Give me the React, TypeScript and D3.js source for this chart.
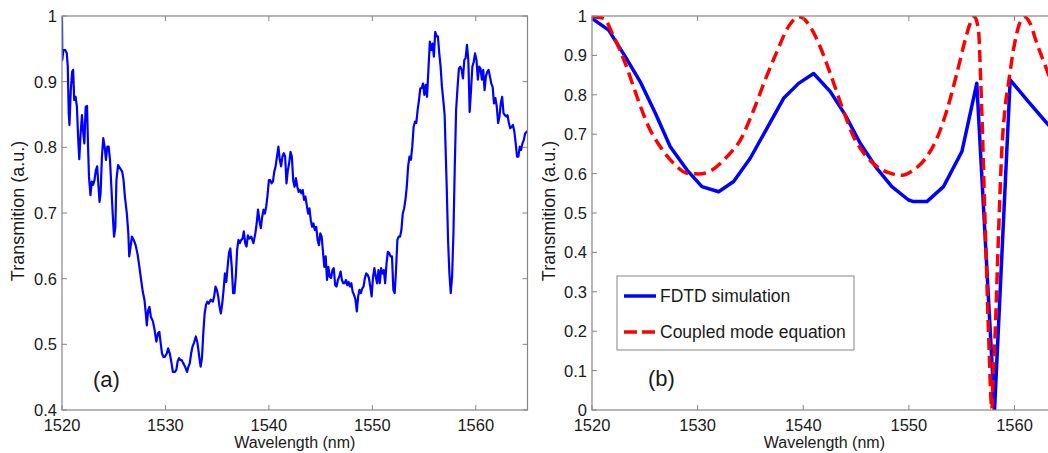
import React from "react";
import * as d3 from "d3";

// ---------- data ----------
// Panel (a): measured transmission spectrum [wavelength nm, transmission]
const measured: [number, number][] = [
  [1520.0,0.999],[1520.03,0.933],[1520.13,0.948],[1520.33,0.948],[1520.46,0.943],[1520.56,0.923],[1520.65,0.852],[1520.72,0.834],[1520.85,0.887],[1520.98,0.915],
  [1521.08,0.918],[1521.18,0.872],[1521.31,0.877],[1521.44,0.862],[1521.57,0.811],[1521.67,0.782],[1521.8,0.821],[1521.93,0.849],[1522.06,0.821],[1522.16,0.806],
  [1522.29,0.862],[1522.42,0.863],[1522.52,0.801],[1522.61,0.755],[1522.75,0.727],[1522.88,0.748],[1523.01,0.743],[1523.14,0.75],[1523.27,0.765],[1523.4,0.771],
  [1523.53,0.74],[1523.63,0.717],[1523.73,0.73],[1523.86,0.786],[1523.99,0.814],[1524.12,0.801],[1524.25,0.781],[1524.38,0.801],[1524.51,0.801],[1524.64,0.781],
  [1524.77,0.74],[1524.9,0.699],[1525.03,0.664],[1525.16,0.679],[1525.26,0.75],[1525.42,0.773],[1525.62,0.768],[1525.82,0.763],[1525.95,0.75],[1526.08,0.725],
  [1526.27,0.699],[1526.41,0.669],[1526.5,0.634],[1526.63,0.649],[1526.76,0.664],[1526.93,0.659],[1527.12,0.651],[1527.32,0.636],[1527.48,0.618],[1527.65,0.598],
  [1527.81,0.58],[1527.97,0.568],[1528.1,0.547],[1528.2,0.529],[1528.33,0.552],[1528.46,0.557],[1528.59,0.542],[1528.79,0.535],[1528.95,0.522],[1529.12,0.504],
  [1529.28,0.517],[1529.41,0.519],[1529.54,0.502],[1529.67,0.486],[1529.8,0.481],[1529.93,0.481],[1530.13,0.486],[1530.26,0.494],[1530.42,0.486],[1530.59,0.471],
  [1530.72,0.458],[1530.92,0.458],[1531.05,0.461],[1531.18,0.474],[1531.31,0.479],[1531.44,0.476],[1531.57,0.476],[1531.73,0.471],[1531.9,0.466],[1532.09,0.458],
  [1532.22,0.466],[1532.35,0.471],[1532.48,0.486],[1532.61,0.496],[1532.75,0.502],[1532.94,0.512],[1533.1,0.502],[1533.27,0.481],[1533.4,0.466],[1533.53,0.479],
  [1533.66,0.517],[1533.79,0.547],[1533.92,0.56],[1534.05,0.565],[1534.18,0.562],[1534.38,0.568],[1534.58,0.565],[1534.71,0.573],[1534.84,0.588],[1534.97,0.583],
  [1535.1,0.573],[1535.23,0.557],[1535.36,0.547],[1535.49,0.562],[1535.62,0.583],[1535.75,0.608],[1535.88,0.595],[1536.01,0.618],[1536.14,0.639],[1536.27,0.646],
  [1536.41,0.618],[1536.54,0.578],[1536.67,0.578],[1536.8,0.603],[1536.93,0.644],[1537.06,0.659],[1537.19,0.654],[1537.32,0.659],[1537.45,0.661],[1537.58,0.672],
  [1537.71,0.654],[1537.84,0.649],[1537.97,0.666],[1538.1,0.661],[1538.3,0.664],[1538.5,0.654],[1538.69,0.669],[1538.82,0.684],[1538.95,0.705],[1539.08,0.689],
  [1539.22,0.677],[1539.35,0.694],[1539.48,0.705],[1539.61,0.699],[1539.74,0.71],[1539.87,0.727],[1540.0,0.75],[1540.13,0.75],[1540.26,0.745],[1540.39,0.748],
  [1540.52,0.763],[1540.65,0.771],[1540.78,0.786],[1540.92,0.801],[1541.05,0.781],[1541.18,0.771],[1541.31,0.786],[1541.44,0.791],[1541.57,0.786],[1541.7,0.745],
  [1541.83,0.765],[1541.96,0.776],[1542.09,0.793],[1542.22,0.786],[1542.35,0.75],[1542.48,0.74],[1542.61,0.753],[1542.75,0.74],[1542.88,0.732],[1543.01,0.735],
  [1543.14,0.73],[1543.27,0.735],[1543.4,0.72],[1543.53,0.725],[1543.66,0.712],[1543.79,0.699],[1543.92,0.707],[1544.05,0.689],[1544.18,0.679],[1544.31,0.684],
  [1544.44,0.674],[1544.58,0.679],[1544.71,0.659],[1544.84,0.651],[1544.97,0.669],[1545.1,0.664],[1545.23,0.641],[1545.36,0.618],[1545.49,0.634],[1545.62,0.598],
  [1545.75,0.618],[1545.88,0.603],[1546.01,0.601],[1546.14,0.613],[1546.27,0.616],[1546.41,0.59],[1546.54,0.588],[1546.67,0.598],[1546.8,0.603],[1546.93,0.611],
  [1547.06,0.598],[1547.19,0.593],[1547.32,0.593],[1547.45,0.598],[1547.58,0.59],[1547.71,0.595],[1547.84,0.588],[1547.97,0.593],[1548.1,0.58],[1548.24,0.575],
  [1548.37,0.568],[1548.5,0.55],[1548.63,0.573],[1548.76,0.583],[1548.89,0.578],[1549.02,0.585],[1549.15,0.588],[1549.28,0.601],[1549.41,0.608],[1549.54,0.606],
  [1549.67,0.601],[1549.8,0.588],[1549.93,0.573],[1550.07,0.603],[1550.2,0.616],[1550.33,0.603],[1550.46,0.593],[1550.59,0.613],[1550.72,0.593],[1550.85,0.616],
  [1550.98,0.608],[1551.11,0.613],[1551.24,0.593],[1551.37,0.623],[1551.5,0.641],[1551.63,0.639],[1551.76,0.634],[1551.9,0.634],[1552.03,0.583],[1552.16,0.578],
  [1552.29,0.613],[1552.42,0.659],[1552.55,0.664],[1552.68,0.664],[1552.81,0.674],[1552.94,0.699],[1553.07,0.707],[1553.2,0.72],[1553.33,0.74],[1553.46,0.771],
  [1553.59,0.786],[1553.73,0.781],[1553.86,0.801],[1553.99,0.831],[1554.12,0.839],[1554.25,0.837],[1554.38,0.857],[1554.51,0.872],[1554.64,0.89],[1554.77,0.89],
  [1554.9,0.897],[1555.03,0.88],[1555.16,0.895],[1555.29,0.877],[1555.42,0.918],[1555.56,0.961],[1555.69,0.948],[1555.82,0.958],[1555.95,0.938],[1556.08,0.976],
  [1556.21,0.969],[1556.34,0.969],[1556.47,0.943],[1556.6,0.923],[1556.73,0.892],[1556.86,0.872],[1556.99,0.849],[1557.06,0.811],[1557.19,0.74],[1557.32,0.659],
  [1557.45,0.608],[1557.58,0.578],[1557.71,0.603],[1557.84,0.669],[1557.97,0.771],[1558.1,0.857],[1558.24,0.892],[1558.37,0.92],[1558.5,0.923],[1558.63,0.918],
  [1558.76,0.905],[1558.89,0.933],[1559.02,0.936],[1559.15,0.956],[1559.28,0.933],[1559.41,0.854],[1559.54,0.887],[1559.67,0.923],[1559.8,0.93],[1559.93,0.943],
  [1560.07,0.933],[1560.2,0.903],[1560.33,0.923],[1560.46,0.92],[1560.59,0.903],[1560.72,0.918],[1560.85,0.887],[1560.98,0.908],[1561.11,0.915],[1561.24,0.918],
  [1561.37,0.908],[1561.5,0.897],[1561.63,0.892],[1561.76,0.867],[1561.9,0.875],[1562.03,0.862],[1562.16,0.837],[1562.29,0.847],[1562.42,0.867],[1562.55,0.877],
  [1562.68,0.852],[1562.81,0.849],[1562.94,0.847],[1563.07,0.849],[1563.2,0.837],[1563.33,0.829],[1563.46,0.831],[1563.59,0.834],[1563.73,0.824],[1563.86,0.806],
  [1563.99,0.786],[1564.12,0.786],[1564.25,0.801],[1564.38,0.796],[1564.51,0.806],[1564.64,0.811],[1564.77,0.821],[1565.0,0.825]
];

// Panel (b): FDTD simulation
const fdtd: [number, number][] = [
  [1520.0,0.994],[1521.58,0.964],[1523.15,0.897],[1524.57,0.833],[1526.0,0.753],[1527.41,0.668],[1529.0,0.609],[1530.41,0.567],
  [1531.99,0.554],[1533.41,0.58],[1534.98,0.639],[1536.56,0.715],[1538.14,0.791],[1539.56,0.829],[1540.98,0.854],[1542.56,0.808],
  [1543.97,0.749],[1545.39,0.677],[1546.97,0.613],[1548.39,0.567],[1549.97,0.533],[1550.44,0.529],[1551.7,0.529],[1553.28,0.567],
  [1555.02,0.656],[1556.43,0.829],[1558.11,0.0],[1559.59,0.838],[1561.17,0.787],[1563.06,0.728],[1564.5,0.685]
];

// Panel (b): coupled mode equation
const cme: [number, number][] = [
  [1520.0,0.998],[1521.1,0.994],[1522.05,0.948],[1523.15,0.88],[1524.26,0.795],[1525.36,0.719],[1526.47,0.668],[1527.73,0.626],
  [1529.0,0.601],[1530.1,0.599],[1531.36,0.609],[1532.78,0.643],[1534.04,0.685],[1535.3,0.761],[1536.4,0.838],[1537.5,0.909],
  [1538.6,0.973],[1539.65,0.998],[1540.66,0.973],[1541.6,0.922],[1542.56,0.854],[1543.66,0.77],[1544.76,0.694],[1545.87,0.647],
  [1546.97,0.618],[1548.23,0.601],[1549.34,0.596],[1550.44,0.609],[1551.7,0.643],[1552.65,0.689],[1553.6,0.761],[1554.54,0.854],
  [1555.33,0.939],[1555.8,0.981],[1556.21,0.998],[1556.59,0.964],[1556.81,0.829],[1557.0,0.677],[1557.15,0.533],[1557.31,0.398],
  [1557.44,0.279],[1557.6,0.152],[1557.73,0.051],[1557.85,0.0],[1557.95,0.068],[1558.17,0.195],[1558.49,0.448],[1558.8,0.66],
  [1559.12,0.77],[1559.43,0.829],[1559.9,0.914],[1560.38,0.973],[1560.95,0.998],[1561.48,0.981],[1562.11,0.931],[1563.06,0.863],[1564.0,0.79]
];

const xTicks = [1520, 1530, 1540, 1550, 1560];
const yTicksA = [0.4, 0.5, 0.6, 0.7, 0.8, 0.9, 1];
const yTicksB = [0, 0.1, 0.2, 0.3, 0.4, 0.5, 0.6, 0.7, 0.8, 0.9, 1];
const legendLabels = ["FDTD simulation", "Coupled mode equation"];
const xLabel = "Wavelength (nm)";
const yLabel = "Transmition (a.u.)";

// ---------- styling ----------
const FONT = "'Liberation Sans', Arial, Helvetica, sans-serif";
const AXIS = "#858585";
const TEXT = "#1a1a1a";
const TICK = 5;

const fmtY = (v: number) => (v === 0 ? "0" : v === 1 ? "1" : v.toFixed(1));

type PanelProps = {
  id: string;
  left: number;
  right: number;
  top: number;
  bottom: number;
  xDomain: [number, number];
  yDomain: [number, number];
  yTicks: number[];
  tag: string;
  tagPos: [number, number];
  yLabelX: number;
  children: (x: d3.ScaleLinear<number, number>, y: d3.ScaleLinear<number, number>) => React.ReactNode;
};

function Panel(p: PanelProps) {
  const x = d3.scaleLinear().domain(p.xDomain).range([p.left, p.right]);
  const y = d3.scaleLinear().domain(p.yDomain).range([p.bottom, p.top]);
  const w = p.right - p.left;
  const h = p.bottom - p.top;
  return (
    <g>
      <defs>
        <clipPath id={p.id}>
          <rect x={p.left} y={p.top} width={w} height={h} />
        </clipPath>
      </defs>
      <rect x={p.left} y={p.top} width={w} height={h} fill="#fff" stroke="none" />
      <g clipPath={`url(#${p.id})`}>{p.children(x, y)}</g>
      <rect x={p.left} y={p.top} width={w} height={h} fill="none" stroke={AXIS} strokeWidth={1.2} />
      {xTicks.map((t) => (
        <g key={"x" + t}>
          <line x1={x(t)} x2={x(t)} y1={p.bottom} y2={p.bottom - TICK} stroke={AXIS} />
          <line x1={x(t)} x2={x(t)} y1={p.top} y2={p.top + TICK} stroke={AXIS} />
          <text x={x(t)} y={p.bottom + 21} textAnchor="middle" fontSize={16.5} fill={TEXT} fontFamily={FONT}>
            {t}
          </text>
        </g>
      ))}
      {p.yTicks.map((t) => (
        <g key={"y" + t}>
          <line x1={p.left} x2={p.left + TICK} y1={y(t)} y2={y(t)} stroke={AXIS} />
          <line x1={p.right} x2={p.right - TICK} y1={y(t)} y2={y(t)} stroke={AXIS} />
          <text x={p.left - 5} y={y(t)} dy="0.36em" textAnchor="end" fontSize={16.5} fill={TEXT} fontFamily={FONT}>
            {fmtY(t)}
          </text>
        </g>
      ))}
      <text x={(p.left + p.right) / 2} y={448} textAnchor="middle" fontSize={16} fill={TEXT} fontFamily={FONT}>
        {xLabel}
      </text>
      <text
        transform={`translate(${p.yLabelX},${(p.top + p.bottom) / 2 - 2}) rotate(-90)`}
        textAnchor="middle"
        fontSize={18}
        fill={TEXT}
        fontFamily={FONT}
      >
        {yLabel}
      </text>
      <text x={p.tagPos[0]} y={p.tagPos[1]} fontSize={22} fill={TEXT} fontFamily={FONT}>
        {p.tag}
      </text>
    </g>
  );
}

export default function App() {
  const line = (x: d3.ScaleLinear<number, number>, y: d3.ScaleLinear<number, number>, curve: d3.CurveFactory) =>
    d3
      .line<[number, number]>()
      .x((d) => x(d[0]))
      .y((d) => y(d[1]))
      .curve(curve);

  return (
    <svg width={1048} height={453} style={{ position: "absolute", left: 0, top: 0, background: "#fff" }}>
      <rect x={0} y={0} width={1048} height={453} fill="#fff" />
      <Panel
        id="clipA"
        left={62}
        right={527.5}
        top={16}
        bottom={410}
        xDomain={[1520, 1565]}
        yDomain={[0.4, 1]}
        yTicks={yTicksA}
        tag="(a)"
        tagPos={[93, 387]}
        yLabelX={24}
      >
        {(x, y) => (
          <path d={line(x, y, d3.curveLinear)(measured) || ""} fill="none" stroke="#0000ff" strokeWidth={2.2} strokeLinejoin="round" />
        )}
      </Panel>
      <Panel
        id="clipB"
        left={592}
        right={1056.75}
        top={16}
        bottom={410}
        xDomain={[1520, 1564]}
        yDomain={[0, 1]}
        yTicks={yTicksB}
        tag="(b)"
        tagPos={[648, 386]}
        yLabelX={555}
      >
        {(x, y) => (
          <g>
            <path d={line(x, y, d3.curveLinear)(fdtd) || ""} fill="none" stroke="#0000ff" strokeWidth={3.5} strokeLinejoin="round" />
            <path
              d={line(x, y, d3.curveMonotoneX)(cme) || ""}
              fill="none"
              stroke="#ff0000"
              strokeWidth={3.5}
              strokeDasharray="12 6"
            />
          </g>
        )}
      </Panel>
      {/* legend */}
      <g fontFamily={FONT}>
        <rect x={617} y={276} width={237} height={74} fill="#fff" stroke={AXIS} strokeWidth={1} />
        <line x1={624} x2={656} y1={296} y2={296} stroke="#0000ff" strokeWidth={3.5} />
        <text x={660} y={302} fontSize={17.5} fill={TEXT}>{legendLabels[0]}</text>
        <line x1={624} x2={656} y1={332} y2={332} stroke="#ff0000" strokeWidth={3.5} strokeDasharray="13 5" />
        <text x={660} y={338} fontSize={17.5} fill={TEXT}>{legendLabels[1]}</text>
      </g>
    </svg>
  );
}
